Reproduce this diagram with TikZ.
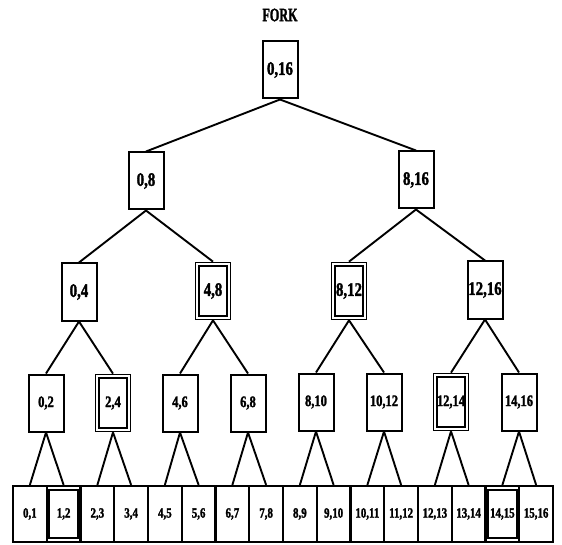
\documentclass[tikz,border=0pt]{standalone}
\usepackage{fontspec}
\setmainfont{Liberation Serif}
\newfontfamily\heavyfont{Liberation Serif Bold}[FakeBold=2]
\newcommand\mylab[1]{\scalebox{0.78}[1]{#1}}
\newcommand\myttl[1]{\scalebox{0.64}[1]{#1}}
\begin{document}
\begin{tikzpicture}[x=1pt,y=-1pt,
  box/.style={draw, line width=2pt, minimum width=35pt, minimum height=57pt, inner sep=0pt, font=\heavyfont\fontsize{19}{19}\selectfont},
  boxs/.style={box, font=\heavyfont\fontsize{16}{16}\selectfont},
  cell/.style={draw, line width=2.1pt, minimum width=33.75pt, minimum height=56pt, inner sep=0pt, font=\heavyfont\fontsize{14}{14}\selectfont},
  outerb/.style={line width=1.7pt},
  conn/.style={line width=1.9pt},
  innerb/.style={draw, line width=2.2pt}]
\path[use as bounding box, fill=white] (0,0) rectangle (562,545);
\node[font=\heavyfont\fontsize{19}{19}\selectfont] (title) at (280,15) {\myttl{FORK}};
% level 0
\node[box] (r) at (280,70) {\mylab{0,16}};
% level 1
\node[box] (a0) at (146,181) {\mylab{0,8}};
\node[box] (a1) at (416,180) {\mylab{8,16}};
% level 2
\node[box] (b0) at (79,292) {\mylab{0,4}};
\node[box,outerb] (b1) at (213,291) {\mylab{4,8}};
\node[box,outerb] (b2) at (349,291) {\mylab{8,12}};
\node[box] (b3) at (485,290) {\mylab{12,16}};
% level 3
\node[boxs] (c0) at (46,403) {\mylab{0,2}};
\node[boxs,outerb] (c1) at (113,403) {\mylab{2,4}};
\node[boxs] (c2) at (180,403) {\mylab{4,6}};
\node[boxs] (c3) at (248,403) {\mylab{6,8}};
\node[boxs] (c4) at (316,402) {\mylab{8,10}};
\node[boxs] (c5) at (384,402) {\mylab{10,12}};
\node[boxs,outerb] (c6) at (451,402) {\mylab{12,14}};
\node[boxs] (c7) at (519,402) {\mylab{14,16}};
% bottom row
\foreach \i/\t in {0/{0,1},1/{1,2},2/{2,3},3/{3,4},4/{4,5},5/{5,6},6/{6,7},7/{7,8},8/{8,9},9/{9,10},10/{10,11},11/{11,12},12/{12,13},13/{13,14},14/{14,15},15/{15,16}}{
  \node[cell] (d\i) at ({13+33.75*(\i+0.5)},514) {\mylab{\t}};
}
% inner boxes (double frames)
\foreach \n in {b1,b2,c1,c6}{
  \draw[innerb] ([xshift=4pt,yshift=-4pt]\n.north west) rectangle ([xshift=-4pt,yshift=4pt]\n.south east);
}
\foreach \n in {d1,d14}{
  \draw[innerb] ([xshift=3.5pt,yshift=-5pt]\n.north west) rectangle ([xshift=-3.5pt,yshift=5pt]\n.south east);
}
% connectors
\draw[conn] (r.south) -- (a0.north);
\draw[conn] (r.south) -- (a1.north);
\draw[conn] (a0.south) -- (b0.north);
\draw[conn] (a0.south) -- (b1.north);
\draw[conn] (a1.south) -- (b2.north);
\draw[conn] (a1.south) -- (b3.north);
\foreach \p/\x/\y in {b0/c0/c1, b1/c2/c3, b2/c4/c5, b3/c6/c7}{
  \draw[conn] (\p.south) -- (\x.north);
  \draw[conn] (\p.south) -- (\y.north);
}
\foreach \k in {0,...,7}{
  \pgfmathtruncatemacro\l{2*\k}
  \pgfmathtruncatemacro\m{2*\k+1}
  \draw[conn] (c\k.south) -- (d\l.north);
  \draw[conn] (c\k.south) -- (d\m.north);
}
\end{tikzpicture}
\end{document}
